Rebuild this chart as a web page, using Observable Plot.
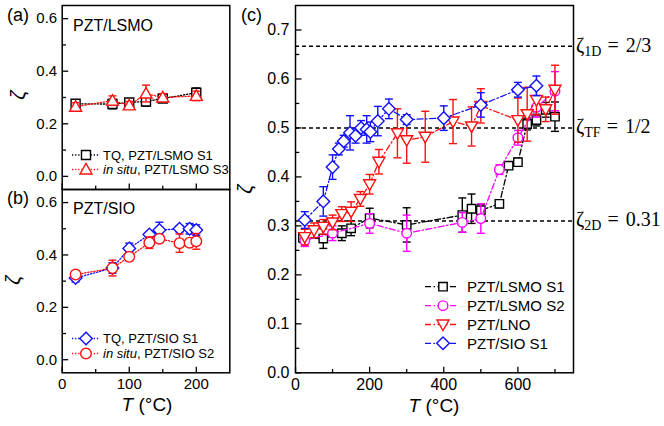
<!DOCTYPE html>
<html><head><meta charset="utf-8">
<script src="https://cdn.jsdelivr.net/npm/d3@7"></script>
<script src="https://cdn.jsdelivr.net/npm/@observablehq/plot@0.6"></script>
<style>
html,body{margin:0;padding:0;background:#fff;}
#wrap{position:relative;width:664px;height:426px;overflow:hidden;background:#fff;}
#wrap svg{position:absolute;left:0;top:0;}
</style></head><body><div id="wrap"></div>
<script>
// ---------- DATA ----------
// Panel (a): PZT/LSMO
const aT = [20, 75, 100, 125, 150, 200];
const aTQ = [0.276, 0.275, 0.281, 0.285, 0.296, 0.318];
const aTQErr = [0.012, 0.018, 0.012, 0.018, 0.012, 0.018];
const aInSitu = [0.265, 0.288, 0.270, 0.315, 0.300, 0.306];
const aInSituErr = [0.015, 0.018, 0.015, 0.032, 0.015, 0.018];

// Panel (b): PZT/SIO
const bT = [20, 75, 100, 130, 145, 175, 190, 200];
const bTQ = [0.312, 0.350, 0.425, 0.478, 0.495, 0.500, 0.500, 0.495];
const bTQErr = [0.015, 0.02, 0.02, 0.01, 0.03, 0.012, 0.02, 0.02];
const bInSitu = [0.325, 0.350, 0.393, 0.447, 0.462, 0.445, 0.447, 0.452];
const bInSituErr = [0.01, 0.03, 0.015, 0.022, 0.012, 0.035, 0.01, 0.03];

// Panel (c)
const lsmo1T = [20, 75, 125, 150, 200, 300, 450, 475, 500, 550, 575, 600, 625, 650, 675, 700];
const lsmo1 = [0.276, 0.274, 0.285, 0.295, 0.316, 0.302, 0.322, 0.335, 0.332, 0.345, 0.423, 0.430, 0.508, 0.516, 0.537, 0.523];
const lsmo1Err = [0.01, 0.02, 0.015, 0.015, 0.02, 0.035, 0.035, 0.03, 0.012, 0.008, 0.007, 0.008, 0.012, 0.012, 0.015, 0.03];

const lsmo2T = [25, 100, 200, 300, 450, 500, 550, 600, 650, 700];
const lsmo2 = [0.270, 0.285, 0.305, 0.285, 0.307, 0.315, 0.415, 0.480, 0.542, 0.575];
const lsmo2Err = [0.012, 0.015, 0.02, 0.037, 0.02, 0.03, 0.01, 0.015, 0.02, 0.04];

const lnoT = [25, 50, 75, 100, 125, 150, 175, 200, 225, 275, 300, 350, 425, 475, 500, 600, 625, 650, 675, 700];
const lno = [0.277, 0.291, 0.298, 0.307, 0.324, 0.329, 0.355, 0.385, 0.431, 0.489, 0.475, 0.482, 0.513, 0.503, 0.545, 0.516, 0.528, 0.557, 0.538, 0.578];
const lnoErr = [0.016, 0.015, 0.015, 0.015, 0.015, 0.02, 0.015, 0.02, 0.025, 0.05, 0.047, 0.052, 0.045, 0.04, 0.035, 0.045, 0.055, 0.03, 0.025, 0.05];

const sioT = [25, 75, 100, 117, 130, 147, 162, 177, 192, 202, 222, 252, 300, 400, 500, 600, 650];
const sio = [0.312, 0.350, 0.420, 0.457, 0.473, 0.490, 0.484, 0.500, 0.497, 0.492, 0.514, 0.539, 0.517, 0.520, 0.547, 0.578, 0.586];
const sioErr = [0.017, 0.03, 0.025, 0.012, 0.012, 0.035, 0.015, 0.015, 0.028, 0.02, 0.03, 0.02, 0.01, 0.025, 0.025, 0.015, 0.02];

// Reference levels
const levels = [2/3, 1/2, 0.31];
const levelSubs = ["1D", "TF", "2D"];
const levelTexts = ["2/3", "1/2", "0.31"];

// Tick values
const abYMajor = [0, 0.2, 0.4, 0.6];
const abYMinor = [0.1, 0.3, 0.5];
const abXMajor = [0, 100, 200];
const abXMinor = [50, 150];
const cYMajor = [0, 0.1, 0.2, 0.3, 0.4, 0.5, 0.6, 0.7];
const cYMinor = [0.05, 0.15, 0.25, 0.35, 0.45, 0.55, 0.65];
const cXMajor = [0, 200, 400, 600];
const cXMinor = [100, 300, 500, 700];

// Labels
const legendA = [["", "TQ, PZT/LSMO S1"], ["in situ", ", PZT/LSMO S3"]];
const legendB = [["", "TQ, PZT/SIO S1"], ["in situ", ", PZT/SIO S2"]];
const legendC = ["PZT/LSMO S1", "PZT/LSMO S2", "PZT/LNO", "PZT/SIO S1"];

// ---------- SYMBOLS ----------
const rOf = s => Math.sqrt(s / Math.PI);
const symSquare = {draw(c, s) { const r = rOf(s); c.rect(-r, -r, 2 * r, 2 * r); }};
const symCircle = {draw(c, s) { const r = rOf(s); c.moveTo(r, 0); c.arc(0, 0, r, 0, 2 * Math.PI); }};
const symDiamond = {draw(c, s) { const r = rOf(s); c.moveTo(0, -r); c.lineTo(r, 0); c.lineTo(0, r); c.lineTo(-r, 0); c.closePath(); }};
const symTriDown = {draw(c, s) { const r = rOf(s); c.moveTo(-r, -0.75 * r); c.lineTo(r, -0.75 * r); c.lineTo(0, r); c.closePath(); }};
const symTriUp = {draw(c, s) { const r = rOf(s); c.moveTo(-r, 0.75 * r); c.lineTo(r, 0.75 * r); c.lineTo(0, -r); c.closePath(); }};
const symCap = {draw(c, s) { const r = rOf(s); c.moveTo(-r, 0); c.lineTo(r, 0); }};
const symTickRight = {draw(c, s) { const r = rOf(s); c.moveTo(0, 0); c.lineTo(r, 0); }};
const symTickUp = {draw(c, s) { const r = rOf(s); c.moveTo(0, 0); c.lineTo(0, -r); }};

const RED = "#ff1010", BLUE = "#1010ff", MAG = "#ff00ff", BLACK = "#000";
const DOT = "1.3,1.8";
const DASHDOT = "6,2.5,1.5,2.5";

function rows(T, v, e) { return T.map((t, i) => ({t, v: v[i], lo: v[i] - e[i], hi: v[i] + e[i]})); }

function seriesMarks(s) {
  const d = rows(s.T, s.v, s.e);
  return [
    Plot.line(d, {x: "t", y: "v", stroke: s.color, strokeWidth: 1.3, strokeDasharray: s.dash}),
    Plot.ruleX(d, {x: "t", y1: "lo", y2: "hi", stroke: s.color, strokeWidth: 1.4}),
    Plot.dot(d, {x: "t", y: "lo", symbol: symCap, r: 4, stroke: s.color, strokeWidth: 1.4}),
    Plot.dot(d, {x: "t", y: "hi", symbol: symCap, r: 4, stroke: s.color, strokeWidth: 1.4}),
    Plot.dot(d, {x: "t", y: "v", symbol: s.sym, r: s.r, stroke: s.color, fill: "white", strokeWidth: 1.4})
  ];
}

function panel(o) {
  return Plot.plot({
    width: 664, height: 426,
    marginLeft: o.ml, marginRight: o.mr, marginTop: o.mt, marginBottom: o.mb,
    style: {background: "transparent", overflow: "visible", fontFamily: "'Liberation Sans', Arial, sans-serif", fontSize: o.fs + "px", color: "black"},
    x: {domain: o.xDomain, axis: null},
    y: {domain: o.yDomain, axis: null},
    marks: [
      ...(o.extra || []),
      ...o.series.flatMap(seriesMarks),
      Plot.dot(o.yMajor, {y: d => d, frameAnchor: "left", symbol: symTickRight, r: 6, stroke: "black", strokeWidth: 1.3}),
      Plot.dot(o.yMinor, {y: d => d, frameAnchor: "left", symbol: symTickRight, r: 3.8, stroke: "black", strokeWidth: 1.3}),
      Plot.dot(o.xMajor, {x: d => d, frameAnchor: "bottom", symbol: symTickUp, r: 6, stroke: "black", strokeWidth: 1.3}),
      Plot.dot(o.xMinor, {x: d => d, frameAnchor: "bottom", symbol: symTickUp, r: 3.8, stroke: "black", strokeWidth: 1.3}),
      Plot.axisY({ticks: o.yMajor, tickSize: 0, tickPadding: o.yPad, tickFormat: d3.format(".1f"), label: null}),
      o.showX ? Plot.axisX({ticks: o.xMajor, tickSize: 0, tickPadding: 6, tickFormat: d3.format("d"), label: null}) : null,
      Plot.frame({stroke: "black", strokeWidth: 1.5})
    ]
  });
}

const wrap = document.getElementById("wrap");

const plotA = panel({
  ml: 61.7, mr: 664 - 229.3, mt: 5, mb: 426 - 189, fs: 15, yPad: 5,
  xDomain: [0, 250], yDomain: [-0.05, 0.65],
  yMajor: abYMajor, yMinor: abYMinor, xMajor: abXMajor, xMinor: abXMinor, showX: false,
  series: [
    {T: aT, v: aTQ, e: aTQErr, color: BLACK, dash: DOT, sym: symSquare, r: 4.5},
    {T: aT, v: aInSitu, e: aInSituErr, color: RED, dash: DOT, sym: symTriUp, r: 6}
  ]
});
const plotB = panel({
  ml: 61.7, mr: 664 - 229.3, mt: 189, mb: 426 - 372.3, fs: 15, yPad: 5,
  xDomain: [0, 250], yDomain: [-0.05, 0.65],
  yMajor: abYMajor, yMinor: abYMinor, xMajor: abXMajor, xMinor: abXMinor, showX: true,
  series: [
    {T: bT, v: bTQ, e: bTQErr, color: BLUE, dash: DOT, sym: symDiamond, r: 6.3},
    {T: bT, v: bInSitu, e: bInSituErr, color: RED, dash: DOT, sym: symCircle, r: 5.3}
  ]
});
const plotC = panel({
  ml: 295, mr: 664 - 573, mt: 5, mb: 426 - 372.3, fs: 16, yPad: 6,
  xDomain: [0, 750], yDomain: [0, 0.75],
  yMajor: cYMajor, yMinor: cYMinor, xMajor: cXMajor, xMinor: cXMinor, showX: true,
  extra: [Plot.ruleY(levels, {stroke: "black", strokeWidth: 1.5, strokeDasharray: "4,3"})],
  series: [
    {T: lsmo1T, v: lsmo1, e: lsmo1Err, color: BLACK, dash: DASHDOT, sym: symSquare, r: 4.2},
    {T: lsmo2T, v: lsmo2, e: lsmo2Err, color: MAG, dash: DASHDOT, sym: symCircle, r: 4.8},
    {T: lnoT, v: lno, e: lnoErr, color: RED, dash: DASHDOT, sym: symTriDown, r: 6},
    {T: sioT, v: sio, e: sioErr, color: BLUE, dash: DASHDOT, sym: symDiamond, r: 6.3}
  ]
});
wrap.append(plotA, plotB, plotC);

// ---------- OVERLAY TEXT / LEGENDS ----------
const ov = d3.select(wrap).append("svg").attr("width", 664).attr("height", 426)
  .style("pointer-events", "none").style("overflow", "visible")
  .attr("font-family", "'Liberation Sans', Arial, sans-serif").attr("fill", "black");

function txt(x, y, s, size, extra = {}) {
  const t = ov.append("text").attr("x", x).attr("y", y).attr("font-size", size).text(s);
  for (const k in extra) t.attr(k, extra[k]);
  return t;
}
// panel letters
txt(7, 21, "(a)", 18);
txt(7, 203.5, "(b)", 18);
txt(241, 21, "(c)", 18);
// panel titles
txt(73, 30.5, "PZT/LSMO", 16);
txt(73, 214, "PZT/SIO", 16);
// y labels (ζ)
function ylab(x, y) {
  ov.append("text").attr("transform", `translate(${x},${y}) rotate(-90)`).attr("text-anchor", "middle")
    .attr("font-size", 20).attr("font-style", "italic").text("ζ");
}
ylab(25, 95); ylab(20, 280); ylab(252, 189);
// x labels
function xlab(cx, y) {
  const t = ov.append("text").attr("x", cx).attr("y", y).attr("text-anchor", "middle").attr("font-size", 19);
  t.append("tspan").attr("font-style", "italic").text("T");
  t.append("tspan").text(" (°C)");
}
xlab(147, 411); xlab(434, 412);

// zeta level labels using the y scale of panel (c)
const yC = plotC.scale("y");
levels.forEach((lv, i) => {
  const y = yC.apply(lv) + 6;
  const t = ov.append("text").attr("x", 576).attr("y", y)
    .attr("font-family", "'Liberation Serif', 'Times New Roman', serif").attr("font-size", 20);
  t.append("tspan").text("ζ");
  t.append("tspan").attr("font-size", 14).attr("dy", 4).text(levelSubs[i]);
  t.append("tspan").attr("dy", -4).attr("dx", 6).text("=");
  t.append("tspan").attr("dx", 7).text(levelTexts[i]);
});

// legends
function legendRow(y, x1, x2, xm, tx, color, dash, sym, r, parts, size) {
  ov.append("line").attr("x1", x1).attr("x2", x2).attr("y1", y).attr("y2", y)
    .attr("stroke", color).attr("stroke-width", 1.3).attr("stroke-dasharray", dash);
  ov.append("path").attr("d", d3.symbol(sym, Math.PI * r * r)()).attr("transform", `translate(${xm},${y})`)
    .attr("fill", "white").attr("stroke", color).attr("stroke-width", 1.4);
  const t = ov.append("text").attr("x", tx).attr("y", y + size * 0.36).attr("font-size", size);
  if (Array.isArray(parts)) {
    if (parts[0]) t.append("tspan").attr("font-style", "italic").text(parts[0]);
    t.append("tspan").text(parts[1]);
  } else t.text(parts);
}
legendRow(155, 72, 100, 86, 103, BLACK, DOT, symSquare, 4.5, legendA[0], 13);
legendRow(169.5, 72, 100, 86, 103, RED, DOT, symTriUp, 6, legendA[1], 13);
legendRow(338.5, 72, 100, 86, 103, BLUE, DOT, symDiamond, 6.3, legendB[0], 13);
legendRow(353.5, 72, 100, 86, 103, RED, DOT, symCircle, 5.3, legendB[1], 13);
const cSyms = [[BLACK, symSquare, 4.2], [MAG, symCircle, 4.8], [RED, symTriDown, 6], [BLUE, symDiamond, 6.3]];
[286.7, 305.7, 324.5, 343.3].forEach((y, i) => {
  legendRow(y, 425, 457, 443, 467, cSyms[i][0], DASHDOT, cSyms[i][1], cSyms[i][2], legendC[i], 15);
});
</script></body></html>
